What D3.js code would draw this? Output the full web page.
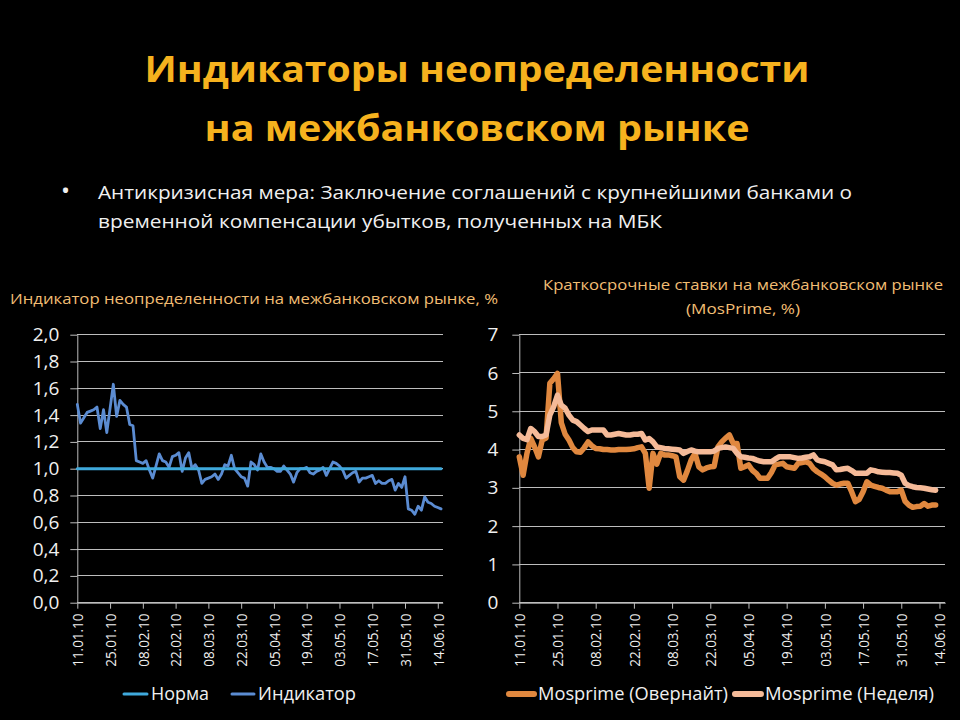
<!DOCTYPE html>
<html>
<head>
<meta charset="utf-8">
<script src="https://cdn.jsdelivr.net/npm/d3@7"></script>
<style>
  html, body { margin: 0; padding: 0; background: #000; }
  svg { display: block; }
  text { font-family: "Open Sans", "Noto Sans", sans-serif; }
</style>
</head>
<body>
<svg id="chart" width="960" height="720"></svg>
<script>
// ---------- DATA ----------
const titleLines = ["Индикаторы неопределенности", "на межбанковском рынке"];
const bulletLines = [
  "Антикризисная мера: Заключение соглашений с крупнейшими банками о",
  "временной компенсации убытков, полученных на МБК"
];
const leftTitle = "Индикатор неопределенности на межбанковском рынке, %";
const rightTitle = ["Краткосрочные ставки на межбанковском рынке", "(MosPrime, %)"];

const dateLabels = ["11.01.10","25.01.10","08.02.10","22.02.10","08.03.10","22.03.10",
                    "05.04.10","19.04.10","03.05.10","17.05.10","31.05.10","14.06.10"];
const dateLabelIndex = [0,10,20,30,40,50,60,70,80,90,100,110];

const leftYTicks = [0,0.2,0.4,0.6,0.8,1.0,1.2,1.4,1.6,1.8,2.0];
const rightYTicks = [0,1,2,3,4,5,6,7];

const normaValue = 1.0;
const indicator = [
  1.48,1.34,1.38,1.42,1.43,1.44,1.46,1.30,1.44,1.27,
  1.45,1.63,1.39,1.51,1.48,1.46,1.33,1.32,1.06,1.05,
  1.04,1.06,0.99,0.93,1.02,1.11,1.06,1.05,1.01,1.09,
  1.10,1.12,0.98,1.08,1.12,1.00,1.03,0.99,0.89,0.92,
  0.93,0.94,0.96,0.92,0.96,1.03,1.02,1.10,1.00,0.97,
  0.94,0.93,0.87,1.05,1.03,0.99,1.11,1.05,1.01,1.01,
  1.00,0.98,0.98,1.02,0.99,0.96,0.90,0.97,1.00,1.00,
  1.01,0.97,0.96,0.98,0.99,1.01,0.95,1.00,1.05,1.04,
  1.02,0.99,0.93,0.95,0.97,0.98,0.90,0.93,0.93,0.94,
  0.95,0.89,0.91,0.89,0.89,0.91,0.92,0.84,0.89,0.86,
  0.94,0.70,0.69,0.66,0.72,0.69,0.79,0.75,0.74,0.72,
  0.71,0.70
];
const overnight = [
  3.81,3.33,3.90,4.29,4.07,3.81,4.25,4.30,5.73,5.85,
  5.99,4.70,4.40,4.25,4.05,3.94,3.93,4.05,4.20,4.10,
  4.03,4.02,4.00,4.00,3.99,3.99,4.00,4.00,4.00,4.01,
  4.02,4.05,4.07,3.90,2.99,3.90,3.62,3.90,3.86,3.86,
  3.84,3.81,3.29,3.20,3.45,3.73,3.90,3.55,3.47,3.52,
  3.55,3.56,4.07,4.20,4.30,4.38,4.16,4.16,3.51,3.55,
  3.60,3.46,3.38,3.25,3.25,3.25,3.40,3.60,3.62,3.64,
  3.55,3.53,3.51,3.64,3.66,3.68,3.64,3.50,3.42,3.36,
  3.29,3.20,3.12,3.07,3.10,3.12,3.12,2.90,2.64,2.70,
  2.90,3.16,3.07,3.04,3.01,2.99,2.94,2.90,2.90,2.90,
  2.94,2.65,2.55,2.49,2.51,2.52,2.59,2.52,2.55,2.55
];
const week = [
  4.38,4.29,4.26,4.55,4.47,4.34,4.34,4.38,4.90,5.12,
  5.42,5.16,5.08,4.90,4.77,4.73,4.64,4.55,4.47,4.51,
  4.51,4.51,4.51,4.38,4.38,4.40,4.42,4.40,4.38,4.38,
  4.40,4.40,4.42,4.25,4.29,4.20,4.07,4.05,4.03,4.02,
  4.01,4.00,3.99,3.90,3.95,3.99,3.96,3.94,3.94,3.94,
  3.94,3.96,4.03,4.05,4.07,4.05,4.03,3.90,3.81,3.80,
  3.78,3.77,3.73,3.70,3.68,3.68,3.68,3.75,3.81,3.81,
  3.81,3.81,3.79,3.77,3.78,3.80,3.81,3.86,3.73,3.70,
  3.68,3.64,3.60,3.47,3.48,3.50,3.51,3.45,3.38,3.38,
  3.38,3.38,3.47,3.45,3.42,3.41,3.40,3.40,3.39,3.38,
  3.33,3.12,3.06,3.03,3.01,3.00,2.99,2.97,2.95,2.94
];

const leftLegend = ["Норма", "Индикатор"];
const rightLegend = ["Mosprime (Овернайт)", "Mosprime (Неделя)"];

// ---------- STYLE ----------
const C = {
  title: "#F6B21E",
  sub: "#F2BE74",
  text: "#F0F0F0",
  grid: "#BDBDBD",
  norma: "#3FA9DC",
  indicator: "#5B8CD2",
  overnight: "#E0883F",
  week: "#F5BA98"
};

const svg = d3.select("#chart");
svg.append("rect").attr("width", 960).attr("height", 720).attr("fill", "#000");

function fitText(sel, w) {
  sel.attr("textLength", w).attr("lengthAdjust", "spacingAndGlyphs");
}

// Title
const tl = svg.append("g");
tl.append("text").attr("x", 477).attr("y", 82).attr("text-anchor", "middle")
  .attr("font-size", 35).attr("font-weight", 700).attr("fill", C.title)
  .text(titleLines[0]).call(fitText, 665);
tl.append("text").attr("x", 477).attr("y", 141).attr("text-anchor", "middle")
  .attr("font-size", 35).attr("font-weight", 700).attr("fill", C.title)
  .text(titleLines[1]).call(fitText, 545);

// Bullet
svg.append("text").attr("x", 61).attr("y", 199).attr("font-size", 24)
  .attr("fill", C.text).text("•");
svg.append("text").attr("x", 98).attr("y", 199).attr("font-size", 19)
  .attr("fill", C.text).text(bulletLines[0]).call(fitText, 754);
svg.append("text").attr("x", 98).attr("y", 228).attr("font-size", 19)
  .attr("fill", C.text).text(bulletLines[1]).call(fitText, 564);

// Sub titles
svg.append("text").attr("x", 10).attr("y", 304).attr("font-size", 14.5)
  .attr("fill", C.sub).text(leftTitle).call(fitText, 488);
svg.append("text").attr("x", 743).attr("y", 290).attr("font-size", 14.5)
  .attr("text-anchor", "middle").attr("fill", C.sub).text(rightTitle[0]).call(fitText, 400);
svg.append("text").attr("x", 743).attr("y", 314).attr("font-size", 14.5)
  .attr("text-anchor", "middle").attr("fill", C.sub).text(rightTitle[1]).call(fitText, 114);

// ---------- Chart builder ----------
function buildChart(opt) {
  const x = d3.scaleLinear().domain([0, 111.5]).range([opt.x0, opt.x1]);
  const y = d3.scaleLinear().domain([0, opt.yMax]).range([602.7, 334.7]);
  const g = svg.append("g");

  // grid
  g.append("g").selectAll("line").data(opt.yTicks).join("line")
    .attr("x1", opt.x0).attr("x2", opt.x1)
    .attr("y1", d => y(d)).attr("y2", d => y(d))
    .attr("stroke", C.grid).attr("stroke-width", 1).attr("shape-rendering", "crispEdges");

  // y axis
  const ya = g.append("g").attr("transform", `translate(${opt.x0},0)`)
    .call(d3.axisLeft(y).tickValues(opt.yTicks).tickSize(7).tickSizeOuter(0)
      .tickPadding(opt.yPad).tickFormat(opt.yFmt));
  ya.attr("font-size", 19);
  ya.select(".domain").attr("stroke", C.grid);
  ya.selectAll(".tick line").attr("stroke", C.grid);
  ya.selectAll("text").attr("fill", C.text).style("font-size", "19px")
    .style("font-family", "'Open Sans', sans-serif");

  // x axis
  const xa = g.append("g").attr("transform", "translate(0,602.7)")
    .call(d3.axisBottom(x).tickValues(dateLabelIndex).tickSize(6).tickSizeOuter(0)
      .tickFormat((d, i) => dateLabels[i]));
  xa.select(".domain").attr("stroke", C.grid);
  xa.selectAll(".tick line").attr("stroke", C.grid);
  xa.selectAll("text").attr("fill", C.text).style("font-size", "15px")
    .style("font-family", "'Open Sans', sans-serif")
    .attr("transform", "rotate(-90)")
    .attr("text-anchor", "end").attr("x", -11).attr("y", 0).attr("dy", "0.35em")
    .call(fitText, 53);

  const line = d3.line().x((d, i) => x(i)).y(d => y(d));
  opt.series.forEach(s => {
    g.append("path").datum(s.values).attr("d", line)
      .attr("fill", "none").attr("stroke", s.color).attr("stroke-width", s.width)
      .attr("stroke-linejoin", "round").attr("stroke-linecap", "round");
  });
  return {x, y};
}

// Left chart
buildChart({
  x0: 77.3, x1: 442.7, yMax: 2, yTicks: leftYTicks, yPad: 11,
  yFmt: d => d3.format(".1f")(d).replace(".", ","),
  series: [
    {values: indicator, color: C.indicator, width: 2.8},
    {values: indicator.map(() => normaValue), color: C.norma, width: 3}
  ]
});

// Right chart
buildChart({
  x0: 519.3, x1: 945.2, yMax: 7, yTicks: rightYTicks, yPad: 14,
  yFmt: d3.format("d"),
  series: [
    {values: overnight, color: C.overnight, width: 5.5},
    {values: week, color: C.week, width: 5.5}
  ]
});

// ---------- Legends ----------
function legendItem(x1, x2, tx, label, color, width, tw) {
  svg.append("line").attr("x1", x1).attr("x2", x2).attr("y1", 694).attr("y2", 694)
    .attr("stroke", color).attr("stroke-width", width).attr("stroke-linecap", "round");
  svg.append("text").attr("x", tx).attr("y", 700).attr("font-size", 18.5)
    .attr("fill", C.text).text(label).call(fitText, tw);
}
legendItem(124, 147, 151, leftLegend[0], C.norma, 3, 58);
legendItem(232, 254, 258, leftLegend[1], C.indicator, 3, 98);
legendItem(509, 534, 538, rightLegend[0], C.overnight, 6, 190);
legendItem(735, 761, 765, rightLegend[1], C.week, 6, 169);
</script>
</body>
</html>
